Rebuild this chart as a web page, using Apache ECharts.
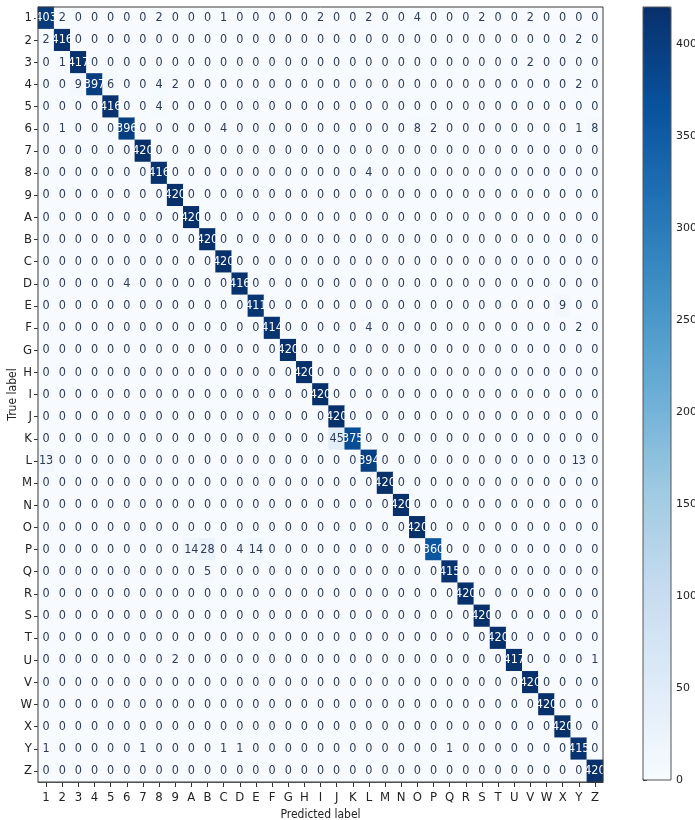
<!DOCTYPE html>
<html><head><meta charset="utf-8">
<script src="https://cdn.jsdelivr.net/npm/echarts@6/dist/echarts.min.js"></script>
<style>html,body{margin:0;padding:0;background:#fff}#c{width:695px;height:820px}</style>
</head><body><div id="c"></div>
<script>
const labels = ['1','2','3','4','5','6','7','8','9','A','B','C','D','E','F','G','H','I','J','K','L','M','N','O','P','Q','R','S','T','U','V','W','X','Y','Z'];
const colorbarTicks = [0,50,100,150,200,250,300,350,400];
// rows = true label, columns = predicted label
const counts = [
[403,2,0,0,0, 0,0,2,0,0, 0,1,0,0,0, 0,0,2,0,0, 2,0,0,4,0, 0,0,2,0,0, 2,0,0,0,0],
[2,416,0,0,0, 0,0,0,0,0, 0,0,0,0,0, 0,0,0,0,0, 0,0,0,0,0, 0,0,0,0,0, 0,0,0,2,0],
[0,1,417,0,0, 0,0,0,0,0, 0,0,0,0,0, 0,0,0,0,0, 0,0,0,0,0, 0,0,0,0,0, 2,0,0,0,0],
[0,0,9,397,6, 0,0,4,2,0, 0,0,0,0,0, 0,0,0,0,0, 0,0,0,0,0, 0,0,0,0,0, 0,0,0,2,0],
[0,0,0,0,416, 0,0,4,0,0, 0,0,0,0,0, 0,0,0,0,0, 0,0,0,0,0, 0,0,0,0,0, 0,0,0,0,0],
[0,1,0,0,0, 396,0,0,0,0, 0,4,0,0,0, 0,0,0,0,0, 0,0,0,8,2, 0,0,0,0,0, 0,0,0,1,8],
[0,0,0,0,0, 0,420,0,0,0, 0,0,0,0,0, 0,0,0,0,0, 0,0,0,0,0, 0,0,0,0,0, 0,0,0,0,0],
[0,0,0,0,0, 0,0,416,0,0, 0,0,0,0,0, 0,0,0,0,0, 4,0,0,0,0, 0,0,0,0,0, 0,0,0,0,0],
[0,0,0,0,0, 0,0,0,420,0, 0,0,0,0,0, 0,0,0,0,0, 0,0,0,0,0, 0,0,0,0,0, 0,0,0,0,0],
[0,0,0,0,0, 0,0,0,0,420, 0,0,0,0,0, 0,0,0,0,0, 0,0,0,0,0, 0,0,0,0,0, 0,0,0,0,0],
[0,0,0,0,0, 0,0,0,0,0, 420,0,0,0,0, 0,0,0,0,0, 0,0,0,0,0, 0,0,0,0,0, 0,0,0,0,0],
[0,0,0,0,0, 0,0,0,0,0, 0,420,0,0,0, 0,0,0,0,0, 0,0,0,0,0, 0,0,0,0,0, 0,0,0,0,0],
[0,0,0,0,0, 4,0,0,0,0, 0,0,416,0,0, 0,0,0,0,0, 0,0,0,0,0, 0,0,0,0,0, 0,0,0,0,0],
[0,0,0,0,0, 0,0,0,0,0, 0,0,0,411,0, 0,0,0,0,0, 0,0,0,0,0, 0,0,0,0,0, 0,0,9,0,0],
[0,0,0,0,0, 0,0,0,0,0, 0,0,0,0,414, 0,0,0,0,0, 4,0,0,0,0, 0,0,0,0,0, 0,0,0,2,0],
[0,0,0,0,0, 0,0,0,0,0, 0,0,0,0,0, 420,0,0,0,0, 0,0,0,0,0, 0,0,0,0,0, 0,0,0,0,0],
[0,0,0,0,0, 0,0,0,0,0, 0,0,0,0,0, 0,420,0,0,0, 0,0,0,0,0, 0,0,0,0,0, 0,0,0,0,0],
[0,0,0,0,0, 0,0,0,0,0, 0,0,0,0,0, 0,0,420,0,0, 0,0,0,0,0, 0,0,0,0,0, 0,0,0,0,0],
[0,0,0,0,0, 0,0,0,0,0, 0,0,0,0,0, 0,0,0,420,0, 0,0,0,0,0, 0,0,0,0,0, 0,0,0,0,0],
[0,0,0,0,0, 0,0,0,0,0, 0,0,0,0,0, 0,0,0,45,375, 0,0,0,0,0, 0,0,0,0,0, 0,0,0,0,0],
[13,0,0,0,0, 0,0,0,0,0, 0,0,0,0,0, 0,0,0,0,0, 394,0,0,0,0, 0,0,0,0,0, 0,0,0,13,0],
[0,0,0,0,0, 0,0,0,0,0, 0,0,0,0,0, 0,0,0,0,0, 0,420,0,0,0, 0,0,0,0,0, 0,0,0,0,0],
[0,0,0,0,0, 0,0,0,0,0, 0,0,0,0,0, 0,0,0,0,0, 0,0,420,0,0, 0,0,0,0,0, 0,0,0,0,0],
[0,0,0,0,0, 0,0,0,0,0, 0,0,0,0,0, 0,0,0,0,0, 0,0,0,420,0, 0,0,0,0,0, 0,0,0,0,0],
[0,0,0,0,0, 0,0,0,0,14, 28,0,4,14,0, 0,0,0,0,0, 0,0,0,0,360, 0,0,0,0,0, 0,0,0,0,0],
[0,0,0,0,0, 0,0,0,0,0, 5,0,0,0,0, 0,0,0,0,0, 0,0,0,0,0, 415,0,0,0,0, 0,0,0,0,0],
[0,0,0,0,0, 0,0,0,0,0, 0,0,0,0,0, 0,0,0,0,0, 0,0,0,0,0, 0,420,0,0,0, 0,0,0,0,0],
[0,0,0,0,0, 0,0,0,0,0, 0,0,0,0,0, 0,0,0,0,0, 0,0,0,0,0, 0,0,420,0,0, 0,0,0,0,0],
[0,0,0,0,0, 0,0,0,0,0, 0,0,0,0,0, 0,0,0,0,0, 0,0,0,0,0, 0,0,0,420,0, 0,0,0,0,0],
[0,0,0,0,0, 0,0,0,2,0, 0,0,0,0,0, 0,0,0,0,0, 0,0,0,0,0, 0,0,0,0,417, 0,0,0,0,1],
[0,0,0,0,0, 0,0,0,0,0, 0,0,0,0,0, 0,0,0,0,0, 0,0,0,0,0, 0,0,0,0,0, 420,0,0,0,0],
[0,0,0,0,0, 0,0,0,0,0, 0,0,0,0,0, 0,0,0,0,0, 0,0,0,0,0, 0,0,0,0,0, 0,420,0,0,0],
[0,0,0,0,0, 0,0,0,0,0, 0,0,0,0,0, 0,0,0,0,0, 0,0,0,0,0, 0,0,0,0,0, 0,0,420,0,0],
[1,0,0,0,0, 0,1,0,0,0, 0,1,1,0,0, 0,0,0,0,0, 0,0,0,0,0, 1,0,0,0,0, 0,0,0,415,0],
[0,0,0,0,0, 0,0,0,0,0, 0,0,0,0,0, 0,0,0,0,0, 0,0,0,0,0, 0,0,0,0,0, 0,0,0,0,420]
];
const blues = ['#f7fbff','#deebf7','#c6dbef','#9ecae1','#6baed6','#4292c6','#2171b5','#08519c','#08306b'];
const vmax = 420;

const data = [];
counts.forEach((row, r) => row.forEach((v, c) => {
  data.push({ value: [c, r, v], label: { color: v > vmax / 2 ? '#ffffff' : '#2e3b55' } });
}));

const axisFont = "'DejaVu Sans Condensed','DejaVu Sans',sans-serif";
const chart = echarts.init(document.getElementById('c'), null, { renderer: 'canvas' });
chart.setOption({
  animation: false,
  backgroundColor: '#ffffff',
  grid: [
    { left: 38, top: 7, width: 565, height: 775, show: true, borderColor: '#3a3a3a', borderWidth: 1,
      containLabel: false, outerBoundsMode: 'none', z: 10 },
    { left: 643, top: 7, width: 28, height: 773, show: true, borderColor: '#555', borderWidth: 1,
      backgroundColor: 'transparent', containLabel: false, outerBoundsMode: 'none', z: 10 }
  ],
  xAxis: [
    { type: 'category', data: labels, gridIndex: 0, position: 'bottom',
      axisLine: { show: true, lineStyle: { color: '#3a3a3a' } },
      axisTick: { show: true, alignWithLabel: true, length: 5, lineStyle: { color: '#333' } },
      axisLabel: { interval: 0, margin: 9, fontSize: 13, color: '#222', fontFamily: axisFont },
      splitLine: { show: false },
      name: 'Predicted label', nameLocation: 'middle', nameGap: 27, nameMoveOverlap: false,
      nameTextStyle: { fontSize: 12, color: '#222', fontFamily: axisFont } },
    { type: 'value', gridIndex: 1, show: false }
  ],
  yAxis: [
    { type: 'category', data: labels, gridIndex: 0, inverse: true,
      axisLine: { show: true, lineStyle: { color: '#3a3a3a' } },
      axisTick: { show: true, alignWithLabel: true, length: 4, lineStyle: { color: '#333' } },
      axisLabel: { interval: 0, margin: 6, fontSize: 13, color: '#222', fontFamily: axisFont },
      splitLine: { show: false },
      name: 'True label', nameLocation: 'middle', nameGap: 19, nameRotate: 90, nameMoveOverlap: false,
      nameTextStyle: { fontSize: 12, color: '#222', fontFamily: axisFont } },
    { type: 'value', gridIndex: 1, min: 0, max: vmax, interval: 50, position: 'right',
      axisLine: { show: true, lineStyle: { color: '#555' } },
      axisTick: { show: true, length: 4, lineStyle: { color: '#333' } },
      splitLine: { show: false },
      axisLabel: { margin: 5, fontSize: 11, color: '#222', fontFamily: "'DejaVu Sans','Noto Sans',sans-serif",
        formatter: v => (colorbarTicks.indexOf(v) >= 0 ? String(v) : '') } }
  ],
  visualMap: {
    type: 'continuous', min: 0, max: vmax, calculable: false, seriesIndex: 0,
    orient: 'vertical', left: 643, top: 7, itemWidth: 28, itemHeight: 773, padding: 0,
    inRange: { color: blues }, text: null, showLabel: false, hoverLink: false
  },
  series: [{
    type: 'heatmap', xAxisIndex: 0, yAxisIndex: 0, data: data,
    itemStyle: { borderWidth: 0 },
    label: { show: true, formatter: p => String(p.value[2]), fontSize: 12.5,
      fontFamily: "'Liberation Sans Narrow','DejaVu Sans Condensed',sans-serif" },
    emphasis: { disabled: true }
  }]
});
</script></body></html>
